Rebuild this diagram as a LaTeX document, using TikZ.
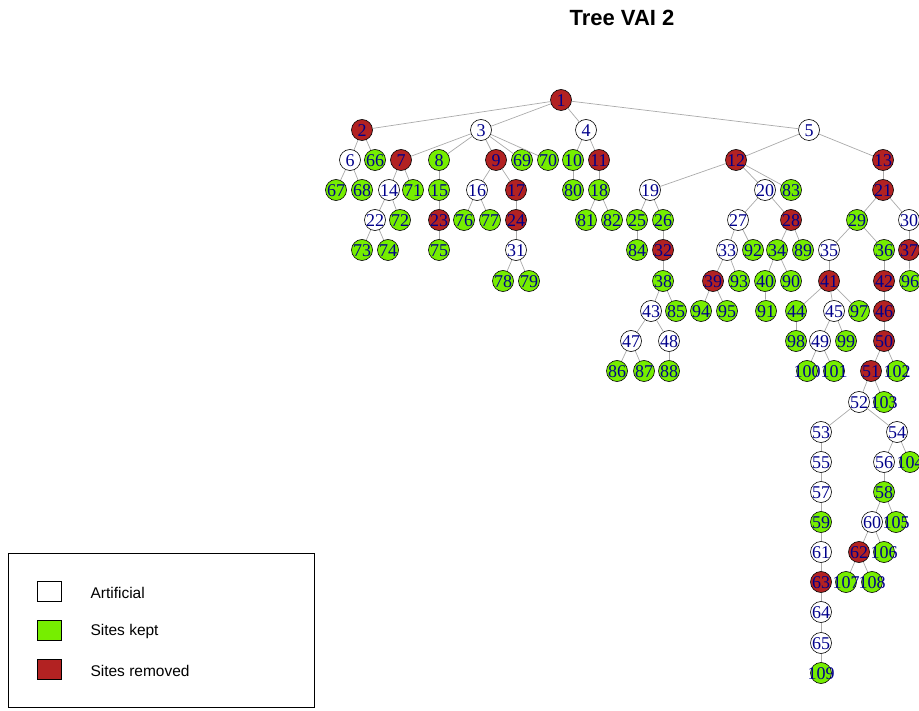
\documentclass[tikz,border=0pt]{standalone}
\usepackage{fontspec}
\setmainfont{Liberation Serif}
\setsansfont{Liberation Sans}
\usepackage{tikz}
\usetikzlibrary{positioning}

\definecolor{keptgreen}{RGB}{118,238,0}
\definecolor{removedred}{RGB}{178,34,34}
\definecolor{labelblue}{RGB}{0,0,139}
\definecolor{branchgrey}{RGB}{170,170,170}

\begin{document}
\begin{tikzpicture}[x=1pt, y=-1pt,
    site/.style={circle, draw=black, line width=0.6pt, minimum size=21pt, inner sep=0pt},
    artificial/.style={site, fill=white},
    kept/.style={site, fill=keptgreen},
    removed/.style={site, fill=removedred},
    every label/.style={inner sep=0pt, yshift=-0.5pt, text=labelblue, font=\fontsize{18}{20}\selectfont},
    branch/.style={draw=branchgrey, line width=0.7pt},
    key/.style={rectangle, draw=black, line width=0.6pt, minimum width=24pt, minimum height=20pt, inner sep=0pt},
    legendtext/.style={inner sep=0pt, font=\sffamily\fontsize{15.5}{18}\selectfont}]

    \useasboundingbox (0,0) rectangle (919,711);
    \clip (0,0) rectangle (919,711);

    \node[font=\sffamily\bfseries\fontsize{22}{26}\selectfont] (title) at (622,18) {Tree VAI 2};

    \node[removed, label=center:1] (v1) at (561,100) {};

    \node[removed, label=center:2] (v2) at (362,130) {};
    \node[artificial, label=center:3] (v3) at (481,130) {};
    \node[artificial, label=center:4] (v4) at (586,130) {};
    \node[artificial, label=center:5] (v5) at (809,130) {};

    \node[artificial, label=center:6] (v6) at (350,160) {};
    \node[kept, label=center:66] (v66) at (375,160) {};
    \node[removed, label=center:7] (v7) at (401,160) {};
    \node[kept, label=center:8] (v8) at (439,160) {};
    \node[removed, label=center:9] (v9) at (496,160) {};
    \node[kept, label=center:69] (v69) at (522,160) {};
    \node[kept, label=center:70] (v70) at (548,160) {};
    \node[kept, label=center:10] (v10) at (573,160) {};
    \node[removed, label=center:11] (v11) at (599,160) {};
    \node[removed, label=center:12] (v12) at (736,160) {};
    \node[removed, label=center:13] (v13) at (883,160) {};

    \node[kept, label=center:67] (v67) at (336,190) {};
    \node[kept, label=center:68] (v68) at (362,190) {};
    \node[artificial, label=center:14] (v14) at (389,190) {};
    \node[kept, label=center:71] (v71) at (413,190) {};
    \node[kept, label=center:15] (v15) at (439,190) {};
    \node[artificial, label=center:16] (v16) at (477,190) {};
    \node[removed, label=center:17] (v17) at (516,190) {};
    \node[kept, label=center:80] (v80) at (573,190) {};
    \node[kept, label=center:18] (v18) at (599,190) {};
    \node[artificial, label=center:19] (v19) at (650,190) {};
    \node[artificial, label=center:20] (v20) at (765,190) {};
    \node[kept, label=center:83] (v83) at (791,190) {};
    \node[removed, label=center:21] (v21) at (883,190) {};

    \node[artificial, label=center:22] (v22) at (375,220) {};
    \node[kept, label=center:72] (v72) at (400,220) {};
    \node[removed, label=center:23] (v23) at (439,220) {};
    \node[kept, label=center:76] (v76) at (464,220) {};
    \node[kept, label=center:77] (v77) at (490,220) {};
    \node[removed, label=center:24] (v24) at (516,220) {};
    \node[kept, label=center:81] (v81) at (586,220) {};
    \node[kept, label=center:82] (v82) at (612,220) {};
    \node[kept, label=center:25] (v25) at (637,220) {};
    \node[kept, label=center:26] (v26) at (663,220) {};
    \node[artificial, label=center:27] (v27) at (738,220) {};
    \node[removed, label=center:28] (v28) at (791,220) {};
    \node[kept, label=center:29] (v29) at (857,220) {};
    \node[artificial, label=center:30] (v30) at (909,220) {};

    \node[kept, label=center:73] (v73) at (362,250) {};
    \node[kept, label=center:74] (v74) at (388,250) {};
    \node[kept, label=center:75] (v75) at (439,250) {};
    \node[artificial, label=center:31] (v31) at (516,250) {};
    \node[kept, label=center:84] (v84) at (637,250) {};
    \node[removed, label=center:32] (v32) at (663,250) {};
    \node[artificial, label=center:33] (v33) at (727,250) {};
    \node[kept, label=center:92] (v92) at (753,250) {};
    \node[kept, label=center:34] (v34) at (777,250) {};
    \node[kept, label=center:89] (v89) at (803,250) {};
    \node[artificial, label=center:35] (v35) at (829,250) {};
    \node[kept, label=center:36] (v36) at (884,250) {};
    \node[removed, label=center:37] (v37) at (909,250) {};

    \node[kept, label=center:78] (v78) at (503,281) {};
    \node[kept, label=center:79] (v79) at (529,281) {};
    \node[kept, label=center:38] (v38) at (663,281) {};
    \node[removed, label=center:39] (v39) at (713,281) {};
    \node[kept, label=center:93] (v93) at (739,281) {};
    \node[kept, label=center:40] (v40) at (765,281) {};
    \node[kept, label=center:90] (v90) at (791,281) {};
    \node[removed, label=center:41] (v41) at (829,281) {};
    \node[removed, label=center:42] (v42) at (884,281) {};
    \node[kept, label=center:96] (v96) at (910,281) {};

    \node[artificial, label=center:43] (v43) at (651,311) {};
    \node[kept, label=center:85] (v85) at (676,311) {};
    \node[kept, label=center:94] (v94) at (701,311) {};
    \node[kept, label=center:95] (v95) at (727,311) {};
    \node[kept, label=center:91] (v91) at (766,311) {};
    \node[kept, label=center:44] (v44) at (796,311) {};
    \node[artificial, label=center:45] (v45) at (834,311) {};
    \node[kept, label=center:97] (v97) at (859,311) {};
    \node[removed, label=center:46] (v46) at (884,311) {};

    \node[artificial, label=center:47] (v47) at (631,341) {};
    \node[artificial, label=center:48] (v48) at (669,341) {};
    \node[kept, label=center:98] (v98) at (796,341) {};
    \node[artificial, label=center:49] (v49) at (820,341) {};
    \node[kept, label=center:99] (v99) at (846,341) {};
    \node[removed, label=center:50] (v50) at (884,341) {};

    \node[kept, label=center:86] (v86) at (617,371) {};
    \node[kept, label=center:87] (v87) at (644,371) {};
    \node[kept, label=center:88] (v88) at (669,371) {};
    \node[kept, label=center:100] (v100) at (807,371) {};
    \node[kept, label=center:101] (v101) at (834,371) {};
    \node[removed, label=center:51] (v51) at (871,371) {};
    \node[kept, label=center:102] (v102) at (897,371) {};

    \node[artificial, label=center:52] (v52) at (859,402) {};
    \node[kept, label=center:103] (v103) at (884,402) {};

    \node[artificial, label=center:53] (v53) at (821,432) {};
    \node[artificial, label=center:54] (v54) at (897,432) {};

    \node[artificial, label=center:55] (v55) at (821,462) {};
    \node[artificial, label=center:56] (v56) at (884,462) {};
    \node[kept, label=center:104] (v104) at (910,462) {};

    \node[artificial, label=center:57] (v57) at (821,492) {};
    \node[kept, label=center:58] (v58) at (884,492) {};

    \node[kept, label=center:59] (v59) at (821,522) {};
    \node[artificial, label=center:60] (v60) at (872,522) {};
    \node[kept, label=center:105] (v105) at (896,522) {};

    \node[artificial, label=center:61] (v61) at (821,552) {};
    \node[removed, label=center:62] (v62) at (859,552) {};
    \node[kept, label=center:106] (v106) at (884,552) {};

    \node[removed, label=center:63] (v63) at (821,582) {};
    \node[kept, label=center:107] (v107) at (846,582) {};
    \node[kept, label=center:108] (v108) at (872,582) {};

    \node[artificial, label=center:64] (v64) at (821,612) {};
    \node[artificial, label=center:65] (v65) at (821,643) {};
    \node[kept, label=center:109] (v109) at (821,673) {};

    \draw[branch] (v1) -- (v2) (v1) -- (v3) (v1) -- (v4) (v1) -- (v5);
    \draw[branch] (v2) -- (v6) (v2) -- (v66);
    \draw[branch] (v3) -- (v7) (v3) -- (v8) (v3) -- (v9) (v3) -- (v69) (v3) -- (v70);
    \draw[branch] (v4) -- (v10) (v4) -- (v11);
    \draw[branch] (v5) -- (v12) (v5) -- (v13);
    \draw[branch] (v6) -- (v67) (v6) -- (v68);
    \draw[branch] (v7) -- (v14) (v7) -- (v71);
    \draw[branch] (v8) -- (v15);
    \draw[branch] (v9) -- (v16) (v9) -- (v17);
    \draw[branch] (v10) -- (v80);
    \draw[branch] (v11) -- (v18);
    \draw[branch] (v12) -- (v19) (v12) -- (v20) (v12) -- (v83);
    \draw[branch] (v13) -- (v21);
    \draw[branch] (v14) -- (v22) (v14) -- (v72);
    \draw[branch] (v15) -- (v23);
    \draw[branch] (v16) -- (v76) (v16) -- (v77);
    \draw[branch] (v17) -- (v24);
    \draw[branch] (v18) -- (v81) (v18) -- (v82);
    \draw[branch] (v19) -- (v25) (v19) -- (v26);
    \draw[branch] (v20) -- (v27) (v20) -- (v28);
    \draw[branch] (v21) -- (v29) (v21) -- (v30);
    \draw[branch] (v22) -- (v73) (v22) -- (v74);
    \draw[branch] (v23) -- (v75);
    \draw[branch] (v24) -- (v31);
    \draw[branch] (v25) -- (v84);
    \draw[branch] (v26) -- (v32);
    \draw[branch] (v27) -- (v33) (v27) -- (v92);
    \draw[branch] (v28) -- (v34) (v28) -- (v89);
    \draw[branch] (v29) -- (v35) (v29) -- (v36);
    \draw[branch] (v30) -- (v37);
    \draw[branch] (v31) -- (v78) (v31) -- (v79);
    \draw[branch] (v32) -- (v38);
    \draw[branch] (v33) -- (v39) (v33) -- (v93);
    \draw[branch] (v34) -- (v40) (v34) -- (v90);
    \draw[branch] (v35) -- (v41);
    \draw[branch] (v36) -- (v42);
    \draw[branch] (v37) -- (v96);
    \draw[branch] (v38) -- (v43) (v38) -- (v85);
    \draw[branch] (v39) -- (v94) (v39) -- (v95);
    \draw[branch] (v40) -- (v91);
    \draw[branch] (v41) -- (v44) (v41) -- (v45) (v41) -- (v97);
    \draw[branch] (v42) -- (v46);
    \draw[branch] (v43) -- (v47) (v43) -- (v48);
    \draw[branch] (v44) -- (v98);
    \draw[branch] (v45) -- (v49) (v45) -- (v99);
    \draw[branch] (v46) -- (v50);
    \draw[branch] (v47) -- (v86) (v47) -- (v87);
    \draw[branch] (v48) -- (v88);
    \draw[branch] (v49) -- (v100) (v49) -- (v101);
    \draw[branch] (v50) -- (v51) (v50) -- (v102);
    \draw[branch] (v51) -- (v52) (v51) -- (v103);
    \draw[branch] (v52) -- (v53) (v52) -- (v54);
    \draw[branch] (v53) -- (v55);
    \draw[branch] (v54) -- (v56) (v54) -- (v104);
    \draw[branch] (v55) -- (v57);
    \draw[branch] (v56) -- (v58);
    \draw[branch] (v57) -- (v59);
    \draw[branch] (v58) -- (v60) (v58) -- (v105);
    \draw[branch] (v59) -- (v61);
    \draw[branch] (v60) -- (v62) (v60) -- (v106);
    \draw[branch] (v61) -- (v63);
    \draw[branch] (v62) -- (v107) (v62) -- (v108);
    \draw[branch] (v63) -- (v64);
    \draw[branch] (v64) -- (v65);
    \draw[branch] (v65) -- (v109);

    \draw[line width=0.8pt] (8,553) rectangle (314,707);
    \node[key, fill=white] (keyart) at (49,591) {};
    \node[key, fill=keptgreen] (keykept) at (49,630) {};
    \node[key, fill=removedred] (keyrem) at (49,669) {};
    \node[legendtext, right=29pt of keyart, yshift=-1.5pt] (txtart) {Artificial};
    \node[legendtext, right=29pt of keykept, yshift=-1.5pt] (txtkept) {Sites kept};
    \node[legendtext, right=29pt of keyrem, yshift=-1.5pt] (txtrem) {Sites removed};

\end{tikzpicture}
\end{document}
